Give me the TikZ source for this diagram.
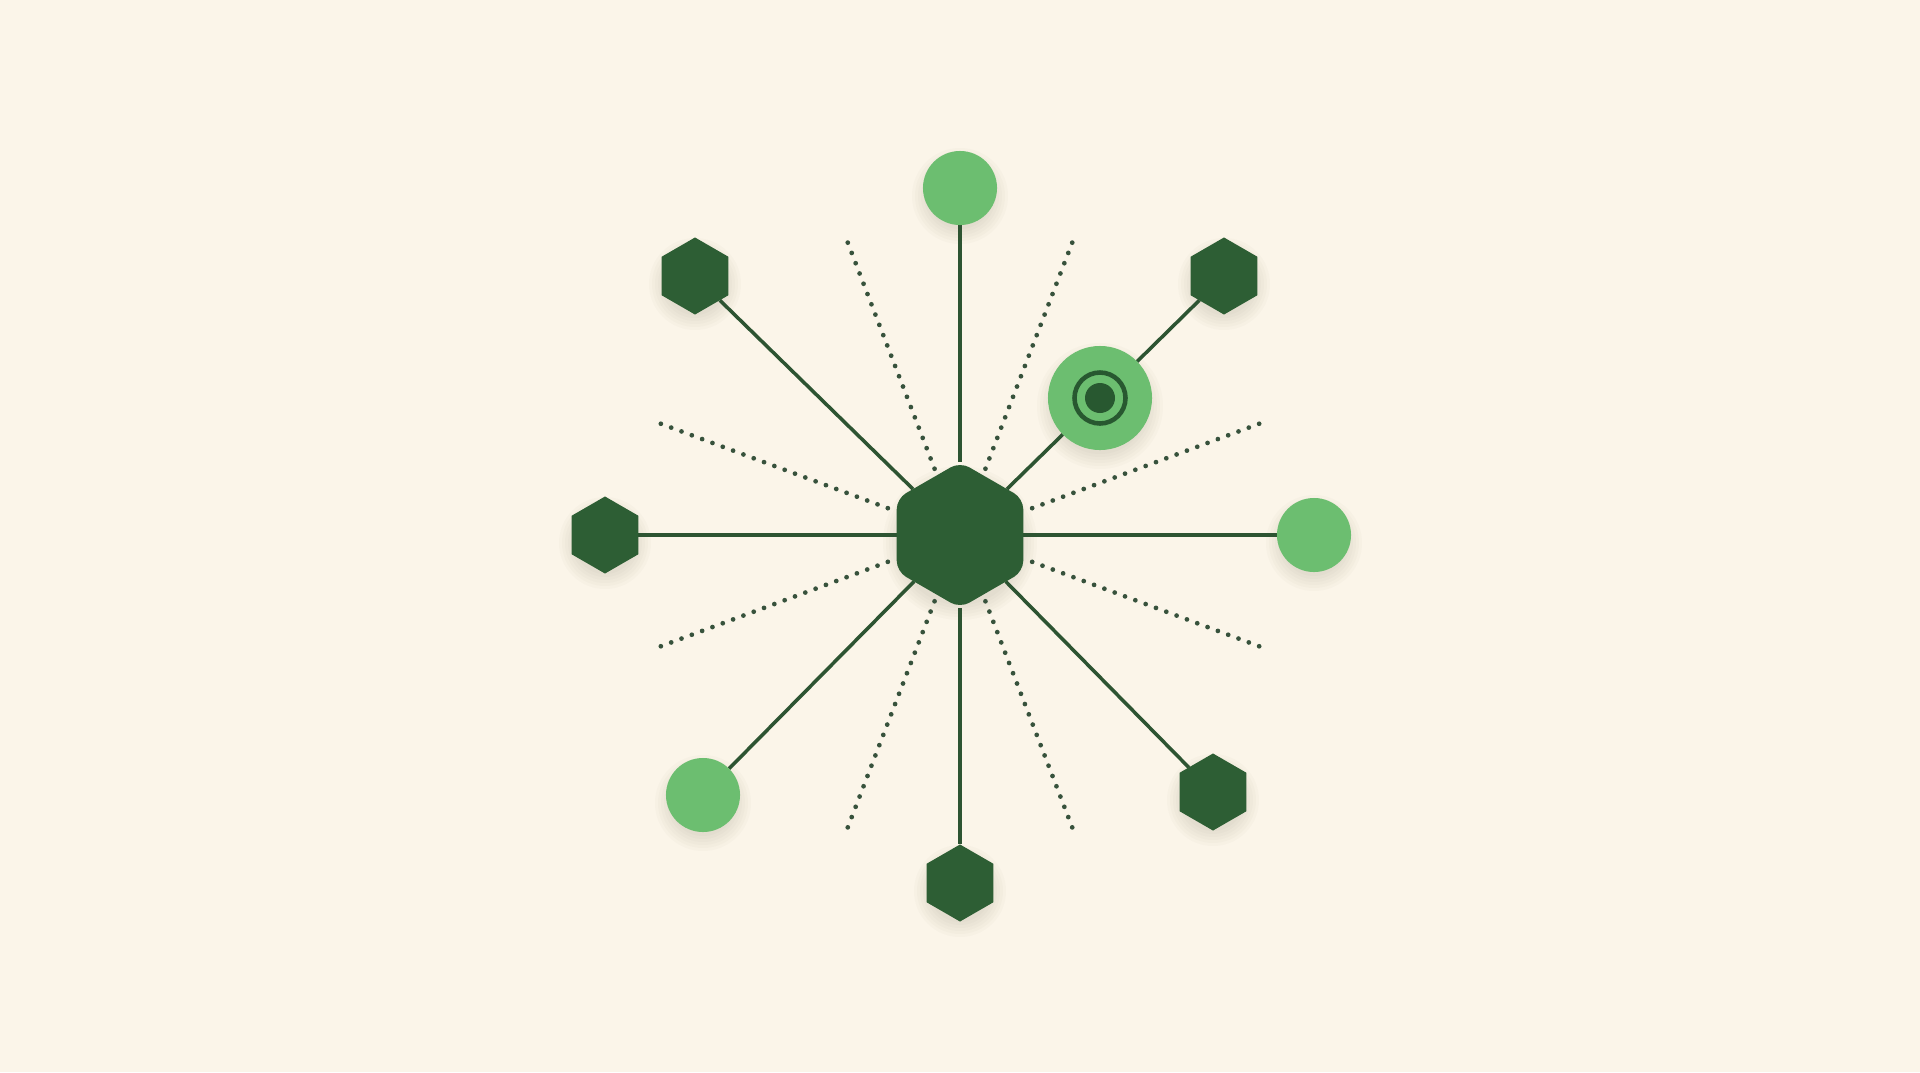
\documentclass[tikz,border=0pt]{standalone}
\usetikzlibrary{shapes.geometric}
\definecolor{cream}{RGB}{251,245,233}
\definecolor{darkg}{RGB}{45,94,52}
\definecolor{lineg}{RGB}{45,84,50}
\definecolor{dotg}{RGB}{55,82,60}
\definecolor{lightg}{RGB}{108,190,112}
\definecolor{ringg}{RGB}{40,88,48}
\definecolor{shadowc}{RGB}{120,110,80}
\pgfdeclarelayer{back}
\pgfdeclarelayer{shade}
\pgfdeclarelayer{bg}
\pgfsetlayers{back,shade,bg,main}
\begin{document}
\begin{tikzpicture}[x=0.01cm,y=-0.01cm,
  hexnode/.style={regular polygon,regular polygon sides=6,shape border rotate=30,
    fill=darkg,draw=none,inner sep=0pt,outer sep=0pt,minimum size=0.77cm},
  bighex/.style={hexnode,minimum size=1.46cm,rounded corners=3pt},
  dotnode/.style={circle,fill=lightg,draw=none,inner sep=0pt,outer sep=0pt,minimum size=0.74cm},
  link/.style={draw=lineg,line width=1pt},
  dotline/.style={draw=dotg,line width=1.35pt,line cap=round,dash pattern=on 0pt off 3.13pt},
  softshade/.style={fill=shadowc,fill opacity=0.028}]
\begin{pgfonlayer}{back}
  \fill[cream] (0,0) rectangle (1920,1072);
\end{pgfonlayer}
\useasboundingbox (0,0) rectangle (1920,1072);

\node[bighex] (c) at (960,535) {};
\node[dotnode] (n) at (960,188) {};
\node[hexnode] (nw) at (695,276) {};
\node[hexnode] (ne) at (1224,276) {};
\node[dotnode,minimum size=1.04cm] (t) at (1100,398) {};
\node[hexnode] (w) at (605,535) {};
\node[dotnode] (e) at (1314,535) {};
\node[dotnode] (sw) at (703,795) {};
\node[hexnode] (se) at (1213,792) {};
\node[hexnode] (s) at (960,883) {};

\draw[draw=ringg,line width=1.3pt] (t.center) circle (25.5);
\fill[ringg] (t.center) circle (15);

\begin{pgfonlayer}{shade}
  \foreach \m/\r in {n/37,nw/35,ne/35,t/52,w/35,e/37,sw/37,se/35,s/35,c/66} {
    \foreach \k in {-4,-1,2,5,8,11} {
      \fill[softshade] (\m.center) ++(0,8) circle (\r+\k);
    }
  }
\end{pgfonlayer}

\begin{pgfonlayer}{bg}
  \foreach \m in {n,nw,w,e,sw,se,s} {\draw[link] (c) -- (\m);}
  \draw[link] (c) -- (t);
  \draw[link] (t) -- (ne);
  \foreach \a in {69,111,249,291} {\draw[dotline] (c.center) ++(\a:71) -- ++(\a:244);}
  \foreach \a in {20.4,159.6,200.4,339.6} {\draw[dotline] (c.center) ++(\a:77) -- ++(\a:244);}
\end{pgfonlayer}
\end{tikzpicture}
\end{document}
